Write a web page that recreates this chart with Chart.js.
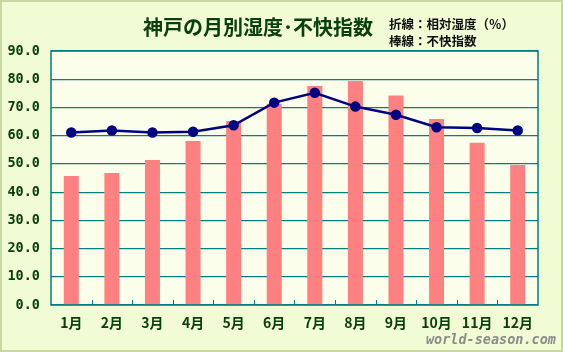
<!DOCTYPE html>
<html>
<head>
<meta charset="utf-8">
<script src="https://cdn.jsdelivr.net/npm/chart.js@4.4.1/dist/chart.umd.min.js"></script>
<style>
  html, body { margin: 0; padding: 0; background: #f2fcd4; }
  #wrap { width: 563px; height: 352px; position: relative; }
</style>
</head>
<body>
<div id="wrap"><canvas id="myChart" width="563" height="352"></canvas></div>
<script>
// 神戸 月別データ
var months = ['1月','2月','3月','4月','5月','6月','7月','8月','9月','10月','11月','12月']
var humidity = [61.1, 61.8, 61.1, 61.4, 63.7, 71.7, 75.2, 70.3, 67.4, 63.0, 62.7, 61.8]   // 折線
var discomfort = [45.7, 46.8, 51.4, 58.1, 65.2, 71.3, 77.6, 79.4, 74.2, 65.9, 57.5, 49.6] // 棒線
var yTicks = [0, 10, 20, 30, 40, 50, 60, 70, 80, 90]

var title = '神戸の月別湿度･不快指数'
var legendLines = ['折線：相対湿度（％）', '棒線：不快指数']
var credit = 'world-season.com'

var darkGreen = '#0a400a'

// background, plot area, inner ticks and texts
var decorate = {
    id: 'decorate',
    beforeDraw: function (chart) {
        var c = chart.ctx
        var a = chart.chartArea
        c.save()
        c.fillStyle = '#f2fcd4'
        c.fillRect(0, 0, chart.width, chart.height)
        c.strokeStyle = '#c8d8a4'
        c.lineWidth = 2
        c.strokeRect(1, 1, chart.width - 2, chart.height - 2)
        c.fillStyle = '#fafeea'
        c.fillRect(a.left, a.top, a.right - a.left, a.bottom - a.top)
        c.restore()
    },
    afterDatasetsDraw: function (chart) {
        var c = chart.ctx
        var a = chart.chartArea
        var x = chart.scales.x
        c.save()
        c.strokeStyle = '#008080'
        c.lineWidth = 1
        // little tick marks between months
        var step = (a.right - a.left) / months.length
        for (var i = 1; i < months.length; i++) {
            var px = Math.round(x.getPixelForValue(i) - step / 2) + 0.5
            c.beginPath()
            c.moveTo(px, a.bottom)
            c.lineTo(px, a.bottom - 5)
            c.stroke()
        }
        c.lineWidth = 1.5
        c.strokeRect(a.left, a.top, a.right - a.left, a.bottom - a.top)
        c.restore()
    },
    afterDraw: function (chart) {
        var c = chart.ctx
        c.save()
        c.textBaseline = 'middle'
        c.fillStyle = darkGreen
        c.font = 'bold 20px "Noto Sans CJK JP"'
        c.textAlign = 'left'
        c.fillText(title, 143, 27)
        c.fillStyle = '#111'
        c.font = 'bold 12.5px "Noto Sans CJK JP"'
        c.fillText(legendLines[0], 389, 24)
        c.fillText(legendLines[1], 389, 41)
        c.fillStyle = '#8a8a8a'
        c.font = 'italic bold 13.5px "DejaVu Sans Mono"'
        c.textAlign = 'right'
        c.fillText(credit, 556, 340)
        c.restore()
    }
}

var ctx = document.getElementById('myChart').getContext('2d')
var chart = new Chart(ctx, {
    type: 'bar',
    data: {
        labels: months,
        datasets: [{
            type: 'line',
            label: '相対湿度',
            data: humidity,
            borderColor: '#000080',
            backgroundColor: '#000080',
            borderWidth: 2.5,
            pointRadius: 4,
            pointHoverRadius: 4,
            tension: 0,
            order: 0
        }, {
            label: '不快指数',
            data: discomfort,
            backgroundColor: '#ff8080',
            barPercentage: 0.37,
            categoryPercentage: 1,
            order: 1
        }]
    },
    options: {
        responsive: false,
        animation: false,
        devicePixelRatio: 1,
        layout: { padding: { top: 51, right: 25, left: 0, bottom: 0 } },
        plugins: {
            legend: { display: false },
            tooltip: { enabled: false }
        },
        scales: {
            x: {
                grid: { display: false },
                border: { display: false },
                ticks: {
                    color: darkGreen,
                    font: { family: '"Noto Sans CJK JP"', size: 14, weight: 'bold' },
                    padding: 1,
                    maxRotation: 0
                },
                afterFit: function (s) { s.height = 47 }
            },
            y: {
                min: 0,
                max: 90,
                afterBuildTicks: function (s) { s.ticks = yTicks.map(function (v) { return { value: v } }) },
                grid: { color: '#008080', lineWidth: 1.2, drawTicks: false },
                border: { display: false },
                ticks: {
                    color: darkGreen,
                    font: { family: '"DejaVu Sans Mono"', size: 13.5, weight: 'bold' },
                    padding: 11,
                    callback: function (v) { return v.toFixed(1) }
                },
                afterFit: function (s) { s.width = 51 }
            }
        }
    },
    plugins: [decorate]
})
</script>
</body>
</html>
